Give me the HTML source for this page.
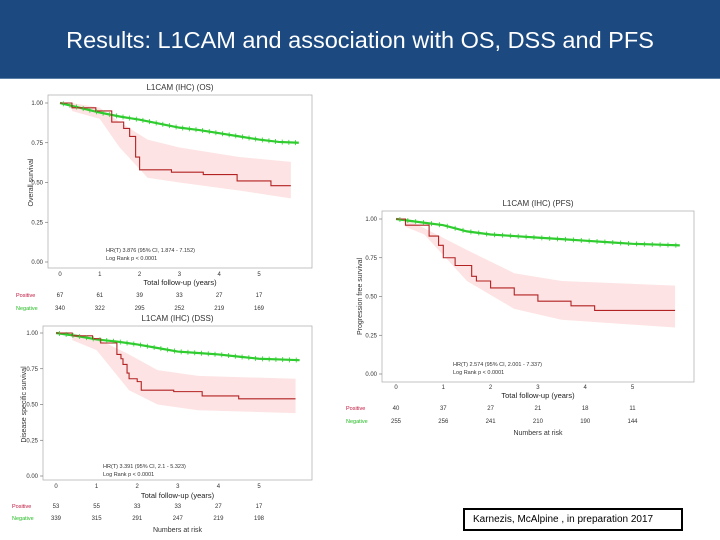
<!DOCTYPE html>
<html><head><meta charset="utf-8"><style>
html,body{margin:0;padding:0;background:#fff;}
body{width:720px;height:540px;position:relative;overflow:hidden;font-family:"Liberation Sans",sans-serif;}
#hdr{position:absolute;left:0;top:0;width:720px;height:78px;background:#1c4a80;border-bottom:1px solid #5b7fa6;}
#hdr h1{margin:0;color:#fff;font-weight:normal;font-size:23.5px;text-align:center;line-height:80px;}
#cite{position:absolute;left:463px;top:508px;width:208px;height:19px;border:2px solid #000;font-size:10px;line-height:19px;padding-left:8px;box-sizing:content-box;}
svg{position:absolute;left:0;top:0;}
</style></head><body>
<div id="hdr"><h1>Results: L1CAM and association with OS, DSS and PFS</h1></div>
<svg id="s" width="720" height="540"></svg>
<div id="cite">Karnezis, McAlpine , in preparation  2017</div>
<script>
// ---- OS data ----
const osNegT=[0,0.5,1,1.5,2,2.5,3,3.5,4,4.5,5,5.5,6];
const osNegS=[1.0,0.97,0.94,0.915,0.895,0.87,0.845,0.83,0.81,0.79,0.77,0.755,0.75];
const osPosT=[0,0.3,0.9,1.3,1.6,1.75,1.9,2.0,2.8,3.6,4.45,5.3,5.8];
const osPosS=[1.0,0.97,0.95,0.88,0.84,0.79,0.66,0.58,0.565,0.55,0.51,0.48,0.48];
const osCiT=[0.3,1.0,1.5,2.2,3.0,4.5,5.8];
const osCiU=[1.0,0.97,0.88,0.77,0.72,0.66,0.63];
const osCiL=[0.95,0.9,0.72,0.53,0.5,0.45,0.4];
const osRiskPos=["67","61","39","33","27","17"];
const osRiskNeg=["340","322","295","252","219","169"];
// ---- DSS data ----
const dssNegT=[0,0.5,1,1.5,2,2.5,3,3.5,4,4.5,5,5.5,6];
const dssNegS=[1.0,0.98,0.955,0.94,0.92,0.895,0.87,0.86,0.85,0.835,0.82,0.815,0.81];
const dssPosT=[0,0.4,0.9,1.1,1.5,1.6,1.65,1.75,1.8,2.0,2.1,2.9,3.6,4.5,5.9];
const dssPosS=[1.0,0.98,0.96,0.93,0.85,0.82,0.78,0.72,0.68,0.66,0.6,0.59,0.56,0.54,0.54];
const dssCiT=[0.4,1.0,1.8,2.5,3.5,5.9];
const dssCiU=[1.0,0.96,0.85,0.74,0.7,0.68];
const dssCiL=[0.95,0.88,0.6,0.5,0.46,0.44];
const dssRiskPos=["53","55","33","33","27","17"];
const dssRiskNeg=["339","315","291","247","219","198"];
// ---- PFS data ----
const pfsNegT=[0,0.5,1,1.5,2,2.5,3,3.5,4,4.5,5,5.5,6];
const pfsNegS=[1.0,0.98,0.96,0.92,0.9,0.89,0.88,0.87,0.86,0.85,0.84,0.835,0.83];
const pfsPosT=[0,0.2,0.7,0.9,1.0,1.25,1.6,1.7,2.0,2.5,3.0,3.7,4.2,5.9];
const pfsPosS=[1.0,0.96,0.89,0.83,0.75,0.7,0.63,0.6,0.555,0.51,0.47,0.44,0.41,0.41];
const pfsCiT=[0.2,0.6,1.5,2.5,3.5,5.9];
const pfsCiU=[1.0,0.94,0.8,0.65,0.6,0.57];
const pfsCiL=[0.95,0.9,0.6,0.42,0.35,0.3];
const pfsRiskPos=["40","37","27","21","18","11"];
const pfsRiskNeg=["255","256","241","210","190","144"];
const xTicks=["0","1","2","3","4","5"];
const yTicks=["0.00","0.25","0.50","0.75","1.00"];

const NS="http://www.w3.org/2000/svg", svg=document.getElementById('s');
function el(t,a,p){const e=document.createElementNS(NS,t);for(const k in a)e.setAttribute(k,a[k]);(p||svg).appendChild(e);return e;}
function txt(p,x,y,s,sz,fill,anchor,extra){const e=el('text',Object.assign({x:x,y:y,'font-size':sz,fill:fill||'#222','text-anchor':anchor||'middle','font-family':'Liberation Sans, sans-serif'},extra||{}),p);e.textContent=s;return e;}
function stepPath(T,S,sx,sy){let d='M'+sx(T[0])+','+sy(S[0]);for(let i=1;i<T.length;i++){d+='H'+sx(T[i])+'V'+sy(S[i]);}return d;}
function linePath(T,S,sx,sy){return T.map((t,i)=>(i?'L':'M')+sx(t)+','+sy(S[i])).join('');}
function km(c){
  const g=el('g',{});
  
  
  const sx=t=>c.x0+t*c.px, sy=v=>c.y0-(c.y0-c.y1)*v;
  el('rect',{x:c.fl,y:c.ft,width:c.fr-c.fl,height:c.fb-c.ft,fill:'none',stroke:'#aaa','stroke-width':0.7},g);
  txt(g,(c.fl+c.fr)/2,c.ft-5,c.title,8,'#333');
  let d='M'+sx(c.ciT[0])+','+sy(c.ciU[0]);
  for(let i=1;i<c.ciT.length;i++)d+='L'+sx(c.ciT[i])+','+sy(c.ciU[i]);
  for(let i=c.ciT.length-1;i>=0;i--)d+='L'+sx(c.ciT[i])+','+sy(c.ciL[i]);
  const band=el('path',{d:d+'Z',fill:'#fde3e3'},g);
  
  
  const gn=el('path',{d:linePath(c.negT,c.negS,sx,sy),fill:'none',stroke:'#2ecc2e','stroke-width':2.2},g);
  
  
  const rp=el('path',{d:stepPath(c.posT,c.posS,sx,sy),fill:'none',stroke:'#b22222','stroke-width':1.1},g);
  
  
  for(let i=0;i<c.negT.length-1;i++){for(let k=0;k<3;k++){const f=(k+0.5)/3;const t=c.negT[i]+(c.negT[i+1]-c.negT[i])*f;const v=c.negS[i]+(c.negS[i+1]-c.negS[i])*f;el('line',{x1:sx(t),x2:sx(t),y1:sy(v)-2.5,y2:sy(v)+2.5,stroke:'#2ecc2e','stroke-width':0.8},g);}}
  yTicks.forEach((s,i)=>{const y=sy(i*0.25);el('line',{x1:c.fl-3,x2:c.fl,y1:y,y2:y,stroke:'#666','stroke-width':0.6},g);txt(g,c.fl-5,y+2,s,6,'#333','end');});
  xTicks.forEach((s,i)=>{txt(g,sx(i),c.xty,s,6,'#333');});
  txt(g,(c.fl+c.fr)/2,c.xly,'Total follow-up (years)',7.5,'#222');
  txt(g,c.ylx,(c.y0+c.y1)/2,c.ylab,7,'#333','middle',{transform:'rotate(-90 '+c.ylx+' '+((c.y0+c.y1)/2)+')'});
  txt(g,c.hrx,c.hry,c.hr,5.5,'#333','start');
  txt(g,c.hrx,c.hry+8,'Log Rank p < 0.0001',5.5,'#333','start');
  txt(g,c.lx,c.r1,'Positive',5.5,'#c0143c','start');
  txt(g,c.lx,c.r2,'Negative',5.5,'#22bb22','start');
  c.rp.forEach((s,i)=>txt(g,sx(i),c.r1,s,6,'#333'));
  c.rn.forEach((s,i)=>txt(g,sx(i),c.r2,s,6,'#333'));
  if(c.nar)txt(g,(c.fl+c.fr)/2,c.r2+12,'Numbers at risk',7,'#333');
}
km({name:'os-chart',title:'L1CAM (IHC) (OS)',fl:48,fr:312,ft:95,fb:268,x0:60,px:39.8,y0:262,y1:103,
 negT:osNegT,negS:osNegS,posT:osPosT,posS:osPosS,ciT:osCiT,ciU:osCiU,ciL:osCiL,rp:osRiskPos,rn:osRiskNeg,nar:false,
 xty:276,xly:285,ylx:33,ylab:'Overall survival',hrx:106,hry:252,hr:'HR(T) 3.876 (95% CI, 1.874 - 7.152)',lx:16,r1:297,r2:310});
km({name:'dss-chart',title:'L1CAM (IHC) (DSS)',fl:43,fr:312,ft:326,fb:480,x0:56,px:40.6,y0:476,y1:333,
 negT:dssNegT,negS:dssNegS,posT:dssPosT,posS:dssPosS,ciT:dssCiT,ciU:dssCiU,ciL:dssCiL,rp:dssRiskPos,rn:dssRiskNeg,nar:true,
 xty:488,xly:498,ylx:26,ylab:'Disease specific survival',hrx:103,hry:468,hr:'HR(T) 3.391 (95% CI, 2.1 - 5.323)',lx:12,r1:508,r2:520});
km({name:'pfs-chart',title:'L1CAM (IHC) (PFS)',fl:382,fr:694,ft:211,fb:382,x0:396,px:47.3,y0:374,y1:219,
 negT:pfsNegT,negS:pfsNegS,posT:pfsPosT,posS:pfsPosS,ciT:pfsCiT,ciU:pfsCiU,ciL:pfsCiL,rp:pfsRiskPos,rn:pfsRiskNeg,nar:true,
 xty:389,xly:398,ylx:362,ylab:'Progression free survival',hrx:453,hry:366,hr:'HR(T) 2.574 (95% CI, 2.001 - 7.337)',lx:346,r1:410,r2:423});
</script>
</body></html>
